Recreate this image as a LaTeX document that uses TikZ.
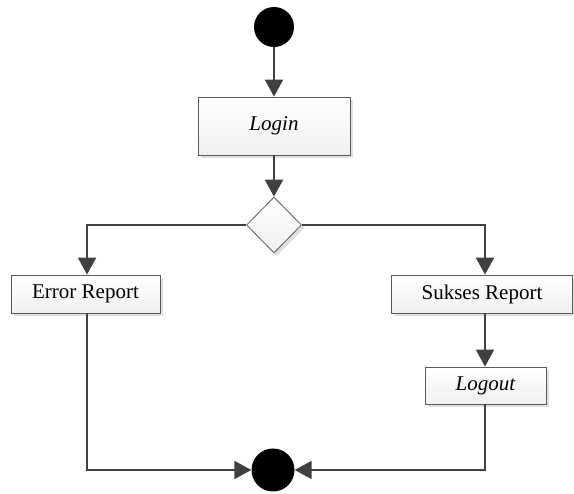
\documentclass[tikz,border=0pt]{standalone}
\usepackage{fontspec}
\setmainfont{Liberation Serif}
\newfontfamily\tnr{Liberation Serif}
\usetikzlibrary{arrows.meta,shapes.geometric,shadows}
\definecolor{linec}{HTML}{404040}
\definecolor{boxborder}{HTML}{5A5A5A}
\begin{document}
\begin{tikzpicture}[x=1pt,y=-1pt,
  actbox/.style={draw=boxborder,line width=0.8pt,top color=white,bottom color=gray!12,
    drop shadow={shadow xshift=3pt,shadow yshift=-3pt,fill=gray!25,opacity=1},
    inner sep=0pt,font=\tnr\fontsize{21}{25}\selectfont},
  flow/.style={draw=linec,line width=2.2pt,-{Triangle[width=18pt,length=17pt]}},
  dot/.style={circle,fill=black,draw=none,inner sep=0pt},
  decide/.style={diamond,draw=boxborder,line width=0.8pt,top color=white,bottom color=gray!12,
    drop shadow={shadow xshift=3pt,shadow yshift=-3pt,fill=gray!25,opacity=1},
    minimum width=55pt,minimum height=56pt,inner sep=0pt}]
\useasboundingbox (0,0) rectangle (574,494);
\node[dot,minimum size=40pt] (start) at (274,27) {};
\node[actbox,minimum width=152pt,minimum height=58pt] (login) at (274,126) {\itshape Login};
\node[decide] (dec) at (274,225) {};
\node[actbox,minimum width=149pt,minimum height=38pt] (err) at (85.5,294) {Error Report};
\node[actbox,minimum width=181pt,minimum height=38pt] (suk) at (482,294) {Sukses Report};
\node[actbox,minimum width=121pt,minimum height=37pt] (logout) at (485.5,385.5) {\itshape Logout};
\node[dot,minimum size=43pt] (end) at (273,470) {};
\coordinate (lc) at (87,225);
\coordinate (rc) at (485,225);
\coordinate (lb) at (87,470);
\coordinate (rb) at (485,470);
\draw[flow] (start) -- (login);
\draw[flow] (login) -- (dec);
\draw[flow] (dec.west) -- (lc) -- (err.north -| lc);
\draw[flow] (dec.east) -- (rc) -- (suk.north -| rc);
\draw[flow] (suk.south -| rc) -- (logout.north -| rc);
\draw[flow] (err.south -| lb) -- (lb) -- (end.west);
\draw[flow] (logout.south -| rb) -- (rb) -- (end.east);
\end{tikzpicture}
\end{document}
